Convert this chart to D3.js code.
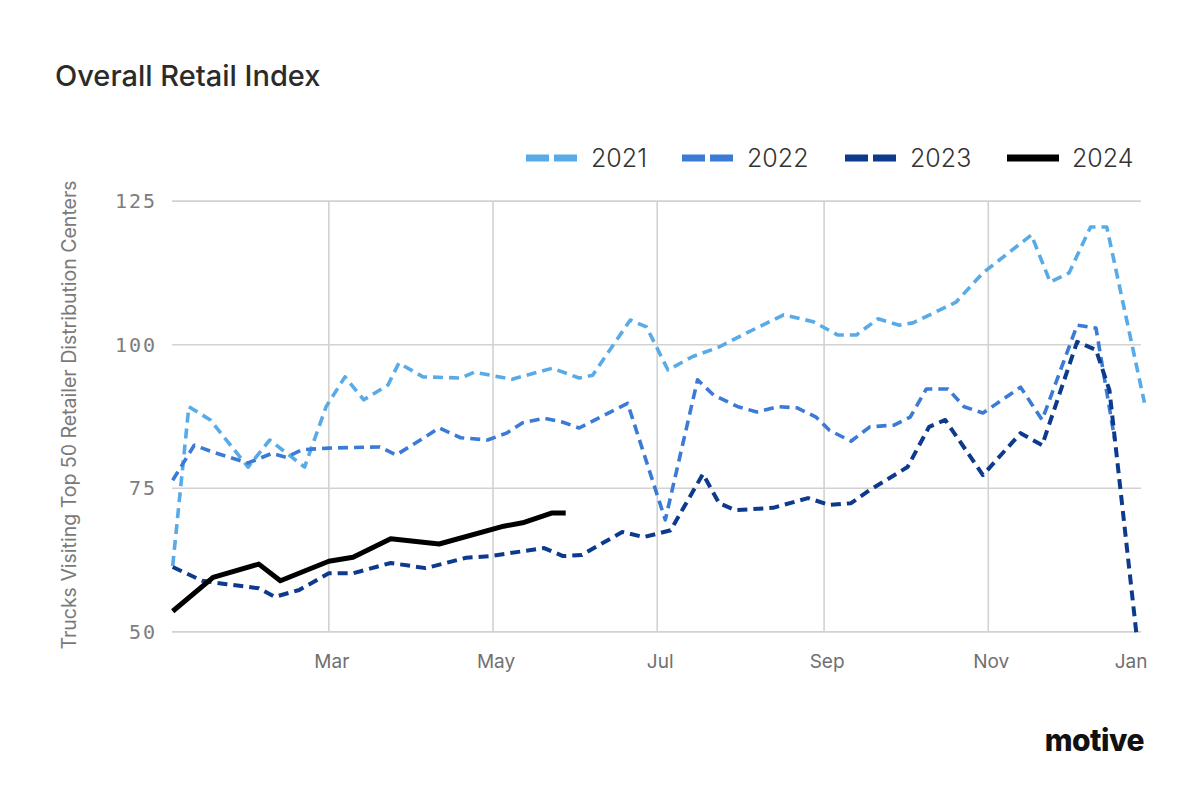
<!DOCTYPE html>
<html>
<head>
<meta charset="utf-8">
<script src="https://cdn.jsdelivr.net/npm/d3@7"></script>
<style>
  body { margin: 0; background: #fff; }
  #chart1 text { font-family: Inter, "Noto Sans", sans-serif; }
</style>
</head>
<body>
<div id="chart1"></div>
<script>
// day of year for each point, and the index value
var days2021 = [1, 7, 15, 29, 37, 50, 58, 65, 72, 81, 85, 94, 108, 113, 127, 142, 152, 157, 171, 177,
  185, 194, 204, 214, 228, 239, 248, 255, 263, 271, 276, 292, 302, 320, 327, 334, 342, 348, 362];
var vals2021 = [61.5, 89.2, 86.9, 78.7, 83.4, 78.7, 89.2, 94.4, 90.4, 93.0, 96.8, 94.4, 94.2, 95.2, 94.0, 95.9, 94.2, 94.7, 104.3, 103.1,
  95.6, 97.9, 99.6, 102.0, 105.2, 104.0, 101.7, 101.7, 104.5, 103.4, 103.8, 107.4, 112.5, 119.1, 110.9, 112.5, 120.5, 120.5, 89.9];

var days2022 = [1, 9, 16, 29, 38, 43, 49, 59, 78, 84, 93, 100, 108, 118, 125, 131, 139, 146, 152, 170,
  184, 196, 202, 211, 218, 226, 233, 240, 245, 253, 260, 269, 275, 281, 289, 295, 302, 316, 324, 337, 344, 351];
var vals2022 = [76.4, 82.5, 81.3, 79.4, 81.1, 80.4, 81.7, 82.0, 82.2, 80.8, 83.4, 85.5, 83.8, 83.4, 84.6, 86.4, 87.2, 86.5, 85.5, 89.8,
  69.5, 93.9, 91.2, 89.2, 88.3, 89.2, 89.0, 87.4, 85.1, 83.2, 85.7, 86.0, 87.4, 92.3, 92.3, 89.2, 88.1, 92.6, 86.9, 103.4, 102.9, 83.4];

var days2023 = [1, 12, 21, 33, 39, 48, 59, 68, 82, 95, 110, 119, 139, 146, 153, 168, 176, 186, 198, 204,
  210, 224, 237, 245, 253, 260, 274, 282, 288, 302, 316, 324, 337, 344, 349, 359];
var vals2023 = [61.3, 58.9, 58.3, 57.6, 56.1, 57.3, 60.2, 60.2, 62.0, 61.1, 62.9, 63.2, 64.6, 63.2, 63.4, 67.4, 66.5, 67.7, 77.5, 72.4,
  71.2, 71.6, 73.3, 72.1, 72.4, 74.7, 78.7, 85.7, 86.9, 77.3, 84.6, 82.5, 100.5, 99.1, 92.1, 49.8];

var days2024 = [1, 16, 33, 41, 59, 68, 82, 100, 124, 131, 142, 147];
var vals2024 = [53.6, 59.5, 61.8, 58.9, 62.3, 63.0, 66.2, 65.3, 68.4, 69.0, 70.7, 70.7];

var years = ["2021", "2022", "2023", "2024"];
var colors = ["#58abe6", "#3b7bd6", "#0c3a8c", "#000000"];

var yTicks = [50, 75, 100, 125];
var monthLabels = ["Mar", "May", "Jul", "Sep", "Nov", "Jan"];
var monthDays = [59, 120, 181, 243, 304, 365];

function RetailChart() {
  var w = 1200;
  var h = 808;

  var series = [
    { year: years[0], color: colors[0], dash: "10,6", width: 3.6, pts: days2021.map((d, i) => [d, vals2021[i]]) },
    { year: years[1], color: colors[1], dash: "10,6", width: 3.6, pts: days2022.map((d, i) => [d, vals2022[i]]) },
    { year: years[2], color: colors[2], dash: "10,6", width: 4, pts: days2023.map((d, i) => [d, vals2023[i]]) },
    { year: years[3], color: colors[3], dash: null, width: 5, pts: days2024.map((d, i) => [d, vals2024[i]]) }
  ];

  var svg = d3.select("#chart1")
    .append("svg")
    .attr("width", w)
    .attr("height", h);

  var xScale = d3.scaleLinear()
    .domain([0, 365])
    .range([170, 1152.5]);

  var yScale = d3.scaleLinear()
    .domain([50, 125])
    .range([631.9, 201.1]);

  var left = 172, right = 1141;

  // title
  svg.append("text")
    .attr("x", 55)
    .attr("y", 86)
    .attr("font-size", 29)
    .attr("font-weight", 500)
    .attr("fill", "#2b2b2b")
    .text("Overall Retail Index");

  // horizontal grid + y labels
  svg.append("g").selectAll("line")
    .data(yTicks)
    .enter()
    .append("line")
    .attr("x1", left)
    .attr("x2", right)
    .attr("y1", (d) => yScale(d))
    .attr("y2", (d) => yScale(d))
    .attr("stroke", "#d2d2d2")
    .attr("stroke-width", 1.6);

  svg.append("g").selectAll("text")
    .data(yTicks)
    .enter()
    .append("text")
    .attr("x", 157)
    .attr("y", (d) => yScale(d) + 7)
    .attr("text-anchor", "end")
    .style("font-family", "'DejaVu Sans Mono', monospace")
    .style("letter-spacing", "2px")
    .attr("font-size", 20)
    .attr("fill", "#7d7d7d")
    .text((d) => d);

  // vertical grid (not at the last tick)
  svg.append("g").selectAll("line")
    .data(monthDays.slice(0, -1))
    .enter()
    .append("line")
    .attr("x1", (d) => xScale(d))
    .attr("x2", (d) => xScale(d))
    .attr("y1", yScale(125))
    .attr("y2", yScale(50))
    .attr("stroke", "#d2d2d2")
    .attr("stroke-width", 1.6);

  // month labels
  svg.append("g").selectAll("text")
    .data(monthDays)
    .enter()
    .append("text")
    .attr("x", (d) => xScale(d))
    .attr("y", 668)
    .attr("text-anchor", (d, i) => i == monthDays.length - 1 ? "end" : "middle")
    .attr("dx", (d, i) => i == monthDays.length - 1 ? -5 : 3)
    .attr("font-size", 19)
    .attr("fill", "#707070")
    .text((d, i) => monthLabels[i]);

  // y axis title
  svg.append("text")
    .attr("text-anchor", "middle")
    .attr("transform", "translate(76,415) rotate(-90)")
    .attr("font-size", 19.5)
    .attr("fill", "#7a7a7a")
    .text("Trucks Visiting Top 50 Retailer Distribution Centers");

  // lines
  var line = d3.line()
    .x((d) => xScale(d[0]))
    .y((d) => yScale(d[1]));

  svg.append("g").selectAll("path")
    .data(series)
    .enter()
    .append("path")
    .attr("d", (d) => line(d.pts))
    .attr("fill", "none")
    .attr("stroke", (d) => d.color)
    .attr("stroke-width", (d) => d.width)
    .attr("stroke-dasharray", (d) => d.dash)
    .attr("stroke-linejoin", "round");

  // legend
  var legendX = [526, 682, 845, 1007];
  var lg = svg.append("g").selectAll("g")
    .data(series)
    .enter()
    .append("g")
    .attr("transform", (d, i) => "translate(" + legendX[i] + ",158)");

  lg.append("line")
    .attr("x1", 0)
    .attr("x2", 52)
    .attr("y1", 0)
    .attr("y2", 0)
    .attr("stroke", (d) => d.color)
    .attr("stroke-width", 7)
    .attr("stroke-dasharray", (d) => d.dash ? "23,5" : null);

  lg.append("text")
    .attr("x", 65)
    .attr("y", 9)
    .attr("font-size", 25)
    .attr("font-weight", 300)
    .attr("fill", "#333")
    .text((d) => d.year);

  // logo
  svg.append("text")
    .attr("x", 1144)
    .attr("y", 751)
    .attr("text-anchor", "end")
    .attr("font-size", 30)
    .attr("font-weight", 800)
    .style("letter-spacing", "-0.5px")
    .attr("fill", "#111")
    .text("motive");
}

window.onload = function () {
  RetailChart();
};
</script>
</body>
</html>
